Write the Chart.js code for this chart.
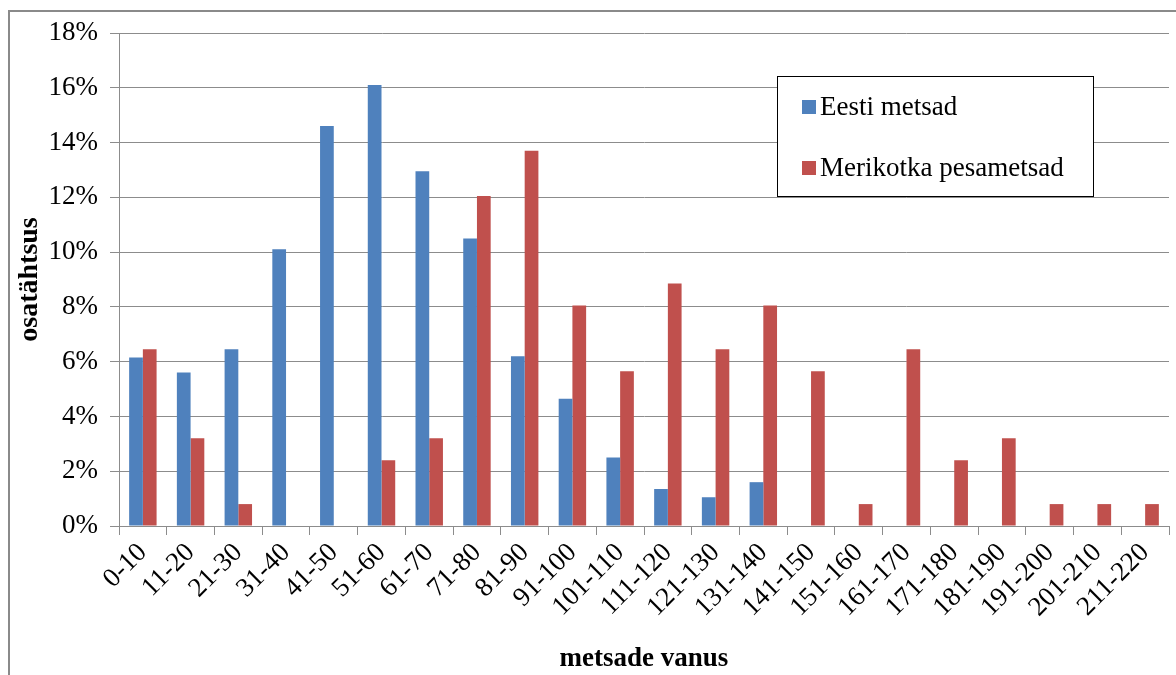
<!DOCTYPE html>
<html>
<head>
<meta charset="utf-8">
<script src="https://cdn.jsdelivr.net/npm/chart.js@4/dist/chart.umd.min.js"></script>
<style>
  html, body { margin: 0; padding: 0; background: #fff; }
  #wrap { width: 1176px; height: 675px; position: relative; }
</style>
</head>
<body>
<div id="wrap"><canvas id="chart" width="1176" height="675"></canvas></div>
<script>
const ageGroups = ['0-10', '11-20', '21-30', '31-40', '41-50', '51-60', '61-70', '71-80', '81-90', '91-100',
  '101-110', '111-120', '121-130', '131-140', '141-150', '151-160', '161-170', '171-180', '181-190',
  '191-200', '201-210', '211-220'];

// shares in percent
const eestiMetsad = [6.15, 5.6, 6.45, 10.1, 14.6, 16.1, 12.95, 10.5, 6.2, 4.65,
  2.5, 1.35, 1.05, 1.6, 0, 0, 0, 0, 0, 0, 0, 0];
const merikotkaMetsad = [6.45, 3.2, 0.8, 0, 0, 2.4, 3.2, 12.05, 13.7, 8.05,
  5.65, 8.85, 6.45, 8.05, 5.65, 0.8, 6.45, 2.4, 3.2, 0.8, 0.8, 0.8];

const seriesNames = ['Eesti metsad', 'Merikotka pesametsad'];
const seriesColors = ['#4F81BD', '#C0504D'];

const gridColor = '#8c8c8c';
const serif = "'Liberation Serif', 'Times New Roman', serif";

// outer frame of the chart object
const framePlugin = {
  id: 'frame',
  beforeDraw(chart) {
    const ctx = chart.ctx;
    ctx.save();
    ctx.strokeStyle = '#8a8a8a';
    ctx.lineWidth = 2;
    ctx.strokeRect(9, 11, 1300, 800);
    ctx.restore();
  }
};

// boxed legend in the upper right
const boxLegend = {
  id: 'boxLegend',
  afterDraw(chart) {
    const ctx = chart.ctx;
    ctx.save();
    ctx.fillStyle = '#fff';
    ctx.fillRect(777, 76, 316, 120);
    ctx.strokeStyle = '#000';
    ctx.lineWidth = 1;
    ctx.strokeRect(777.5, 76.5, 316, 120);
    ctx.font = '27px ' + serif;
    ctx.textBaseline = 'middle';
    chart.data.datasets.forEach((ds, i) => {
      const y = 107 + i * 61;
      ctx.fillStyle = ds.backgroundColor;
      ctx.fillRect(802, y - 7, 14, 14);
      ctx.fillStyle = '#000';
      ctx.fillText(ds.label, 820, y + 1);
    });
    ctx.restore();
  }
};

new Chart(document.getElementById('chart'), {
  type: 'bar',
  data: {
    labels: ageGroups,
    datasets: [
      { label: seriesNames[0], data: eestiMetsad, backgroundColor: seriesColors[0] },
      { label: seriesNames[1], data: merikotkaMetsad, backgroundColor: seriesColors[1] }
    ]
  },
  options: {
    responsive: false,
    animation: false,
    layout: { padding: { top: 33, right: 7, left: 0, bottom: 0 } },
    datasets: {
      bar: { categoryPercentage: 0.575, barPercentage: 1.0, borderWidth: 0 }
    },
    plugins: {
      legend: { display: false },
      tooltip: { enabled: false }
    },
    scales: {
      x: {
        offset: true,
        grid: { display: true, drawOnChartArea: false, color: gridColor, tickLength: 9, offset: true },
        border: { display: true, color: gridColor },
        ticks: {
          color: '#000',
          font: { family: serif, size: 27 },
          minRotation: 45,
          maxRotation: 45,
          autoSkip: false,
          padding: 2
        },
        title: {
          display: true,
          text: 'metsade vanus',
          color: '#000',
          font: { family: serif, size: 27, weight: 'bold', lineHeight: 1.2 },
          padding: { top: 4, bottom: 0 }
        },
        afterFit(scale) { scale.height = 149; }
      },
      y: {
        min: 0,
        max: 18,
        grid: { color: gridColor, tickLength: 9 },
        border: { display: true, color: gridColor },
        ticks: {
          stepSize: 2,
          color: '#000',
          font: { family: serif, size: 27 },
          padding: 12,
          callback: v => v + '%'
        },
        title: {
          display: true,
          text: 'osatähtsus',
          color: '#000',
          font: { family: serif, size: 28, weight: 'bold', lineHeight: 1.2 },
          padding: { top: 13, bottom: 0 }
        },
        afterFit(scale) { scale.width = 119; }
      }
    }
  },
  plugins: [framePlugin, boxLegend]
});
</script>
</body>
</html>
